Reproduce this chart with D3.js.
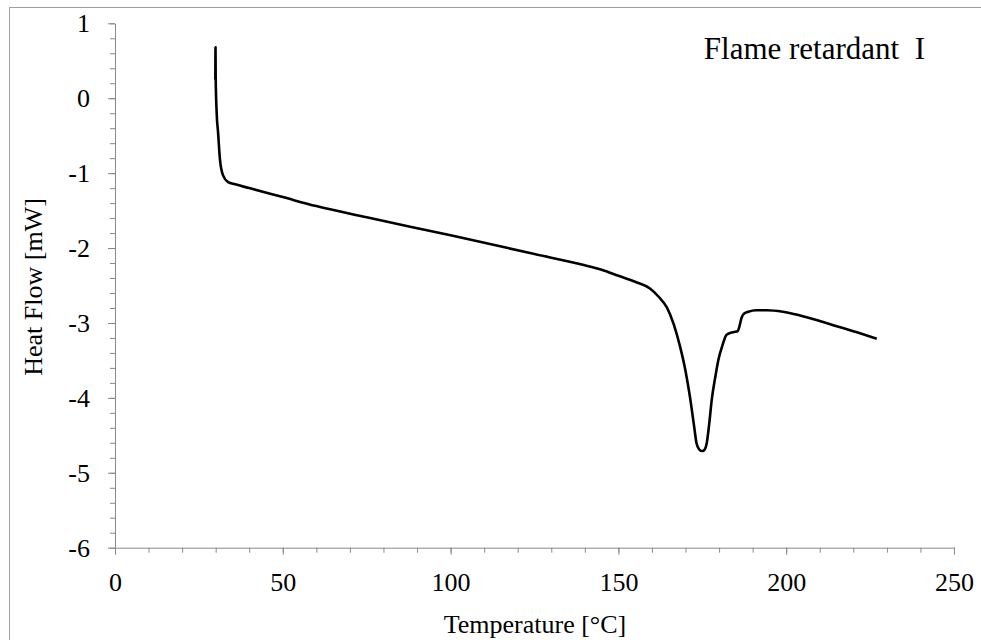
<!DOCTYPE html>
<html>
<head>
<meta charset="utf-8">
<script src="https://cdn.jsdelivr.net/npm/d3@7"></script>
<style>
  body { margin: 0; background: #fff; }
  svg { display: block; font-family: "Liberation Serif", "Times New Roman", serif; }
</style>
</head>
<body>
<svg width="981" height="640"></svg>
<script>
// DSC trace: temperature [°C] and heat flow [mW]
var temperature = [29.9, 29.95, 30.0, 30.3, 30.7, 31.3, 32.2, 33.7, 35.8, 40, 50, 60, 75, 100, 125, 140, 145, 150, 155, 159.4,
  162, 164.4, 166.5, 168.4, 170, 171.3, 172.5, 173.3, 174.1, 174.8, 175.5, 176.3, 177.1, 177.8, 178.8, 179.8, 181, 182.2,
  183.5, 184.5, 185.5, 186.1, 186.7, 187.6, 188.7, 191, 194.2, 199, 204.1, 209, 214, 220, 227];
var heatFlow = [0.25, 0.68, 0.28, -0.20, -0.45, -0.83, -1.03, -1.12, -1.15, -1.20, -1.32, -1.44, -1.59, -1.83, -2.08, -2.23, -2.29, -2.37, -2.45, -2.54,
  -2.65, -2.79, -3.02, -3.32, -3.64, -3.98, -4.36, -4.61, -4.69, -4.71, -4.70, -4.61, -4.33, -4.03, -3.74, -3.49, -3.30, -3.16,
  -3.13, -3.12, -3.11, -3.04, -2.93, -2.87, -2.85, -2.83, -2.83, -2.85, -2.90, -2.96, -3.03, -3.11, -3.21];

var xTicks = [0, 50, 100, 150, 200, 250];
var yTicks = [1, 0, -1, -2, -3, -4, -5, -6];
var title = "Flame retardant  I";
var xTitle = "Temperature [°C]";
var yTitle = "Heat Flow [mW]";

var svg = d3.select("svg");
var margin = { left: 115, top: 23.3, right: 27, bottom: 92.3 },
  width = 981 - margin.left - margin.right,
  height = 640 - margin.top - margin.bottom;

var axisColor = "#898989";

// outer frame of the chart
svg.append("rect")
  .attr("x", 9.5).attr("y", 7.5)
  .attr("width", 990).attr("height", 660)
  .attr("fill", "none")
  .attr("stroke", "#a0a0a0");

var g = svg.append("g")
  .attr("transform", "translate(" + margin.left + "," + margin.top + ")");

var x = d3.scaleLinear().domain([0, 250]).range([0, width]);
var y = d3.scaleLinear().domain([-6, 1]).range([height, 0]);

// minor ticks
g.append("g")
  .attr("transform", "translate(0," + height + ")")
  .call(d3.axisBottom(x).tickValues(d3.range(0, 251, 10)).tickSize(5).tickFormat(""))
  .call(function (a) { a.select(".domain").remove(); });

g.append("g")
  .call(d3.axisLeft(y).tickValues(d3.range(-30, 6, 1).map(function (d) { return d / 5; })).tickSize(5).tickFormat(""))
  .call(function (a) { a.select(".domain").remove(); });

// major axes
var xAxis = g.append("g")
  .attr("transform", "translate(0," + height + ")")
  .call(d3.axisBottom(x).tickValues(xTicks).tickSize(7).tickSizeOuter(0).tickPadding(18));

var yAxis = g.append("g")
  .call(d3.axisLeft(y).tickValues(yTicks).tickSize(7).tickSizeOuter(0).tickPadding(18)
    .tickFormat(function (d) { return d < 0 ? "-" + Math.abs(d) : d; }));

g.selectAll(".tick line, .domain").attr("stroke", axisColor);
g.selectAll(".tick text")
  .attr("fill", "#000")
  .style("font-family", "'Liberation Serif', 'Times New Roman', serif")
  .style("font-size", "26px");
xAxis.selectAll(".tick text").attr("dy", "0.71em");

// curve
var points = temperature.map(function (t, i) { return [t, heatFlow[i]]; });
var line = d3.line()
  .x(function (d) { return x(d[0]); })
  .y(function (d) { return y(d[1]); })
  .curve(d3.curveMonotoneX);

g.append("path")
  .datum(points)
  .attr("fill", "none")
  .attr("stroke", "#000")
  .attr("stroke-width", 2.6)
  .attr("stroke-linejoin", "round")
  .attr("d", line);

// texts
svg.append("text")
  .attr("x", 925).attr("y", 59)
  .attr("text-anchor", "end")
  .style("font-size", "31px")
  .style("white-space", "pre")
  .attr("xml:space", "preserve")
  .text(title);

svg.append("text")
  .attr("x", 535).attr("y", 633)
  .attr("text-anchor", "middle")
  .style("font-size", "26px")
  .text(xTitle);

svg.append("text")
  .attr("transform", "translate(42,287) rotate(-90)")
  .attr("text-anchor", "middle")
  .style("font-size", "26px")
  .text(yTitle);
</script>
</body>
</html>
